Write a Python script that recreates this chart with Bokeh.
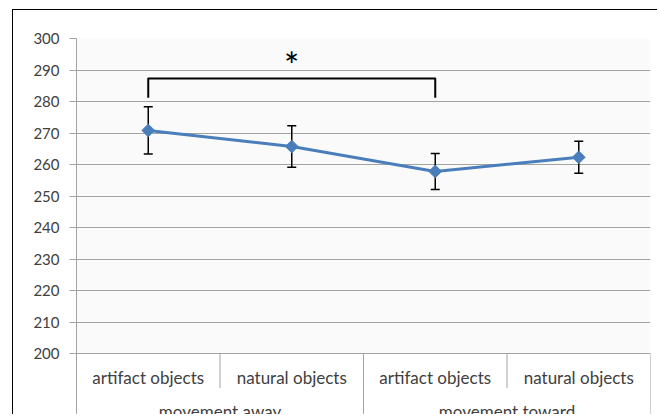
import numpy as np
from bokeh.plotting import figure
from bokeh.models import (ColumnDataSource, FactorRange, Range1d, FixedTicker,
                          Whisker, TeeHead, BoxAnnotation)
from bokeh.core.properties import value
from bokeh.embed import file_html
from bokeh.resources import INLINE

# ---- data ----
groups = ["movement away", "movement toward"]
objects = ["artifact objects", "natural objects"]
means = [270.8, 265.7, 257.8, 262.3]
errors = [7.5, 6.6, 5.7, 5.1]
y_ticks = list(range(200, 301, 10))
bracket_y = [281.2, 287.3]
star_text = "*"
star_y = 291.7

factors = [(g, o) for g in groups for o in objects]

GRID = "#a3a3a3"
TEXT = "#404040"
BLUE = "#4a7ebb"
FONT = "Lato"

PX = 3.15  # pixels per data unit (for label placement below the axis)
y_bottom = 200 - 62 / PX

p = figure(width=645, height=405,
           x_range=FactorRange(*factors, factor_padding=0, group_padding=0,
                               subgroup_padding=0, range_padding=0),
           y_range=Range1d(y_bottom, 300),
           output_backend="svg", toolbar_location=None,
           x_axis_location=None,
           min_border_left=63, min_border_top=28, min_border_right=8,
           min_border_bottom=0,
           styles={"margin-left": "12px", "margin-top": "9px",
                   "border-left": "1px solid #000", "border-top": "1px solid #000"})

p.outline_line_color = None
p.background_fill_color = "white"
p.border_fill_color = "white"

# y axis
p.yaxis.ticker = FixedTicker(ticks=y_ticks)
p.ygrid.ticker = FixedTicker(ticks=y_ticks)
p.yaxis.axis_line_color = GRID
p.yaxis.major_tick_line_color = GRID
p.yaxis.major_tick_out = 7
p.yaxis.major_tick_in = 0
p.yaxis.minor_tick_line_color = None
p.yaxis.major_label_text_font = FONT
p.yaxis.major_label_text_font_size = "15px"
p.yaxis.major_label_text_color = TEXT
p.yaxis.major_label_standoff = 10
p.ygrid.grid_line_color = GRID
p.xgrid.grid_line_color = None

# plot-area background
p.add_layout(BoxAnnotation(bottom=y_ticks[0], top=y_ticks[-1], fill_color="#fafafa",
                           fill_alpha=1, line_color=None, level="image"))

# category axis drawn in data space
sep_x = [(groups[0], objects[1], -0.5), (groups[1], objects[0], -0.5),
         (groups[1], objects[1], -0.5), (groups[1], objects[1], 0.5)]
sep_y1 = [200 - 34.5 / PX, y_bottom, 200 - 34.5 / PX, y_bottom]
p.segment(x0=sep_x, y0=[y_ticks[0]] * 4, x1=sep_x, y1=sep_y1,
          line_color=GRID, line_width=1)

p.text(x=factors, y=[200 - 23.5 / PX] * 4, text=[f[1] for f in factors],
       text_align="center", text_baseline="middle", text_font=value(FONT),
       text_font_size="17px", text_color=TEXT)
p.text(x=groups, y=[200 - 58 / PX] * 2, text=groups,
       text_align="center", text_baseline="middle", text_font=value(FONT),
       text_font_size="17px", text_color=TEXT)

# data
src = ColumnDataSource(dict(x=factors, y=means,
                            upper=[m + e for m, e in zip(means, errors)],
                            lower=[m - e for m, e in zip(means, errors)]))
w = Whisker(base="x", upper="upper", lower="lower", source=src,
            line_color="black", line_width=1.5,
            upper_head=TeeHead(size=9, line_color="black", line_width=1.5),
            lower_head=TeeHead(size=9, line_color="black", line_width=1.5))
p.add_layout(w)

p.line(x="x", y="y", source=src, line_color=BLUE, line_width=3)
p.scatter(x="x", y="y", source=src, marker="square", angle=np.pi / 4, size=9,
          fill_color=BLUE, line_color=BLUE)

# significance bracket
p.line(x=[factors[0], factors[0], factors[2], factors[2]],
       y=[bracket_y[0], bracket_y[1], bracket_y[1], bracket_y[0]],
       line_color="black", line_width=2, line_join="round")
p.text(x=[factors[1]], y=[star_y], text=[star_text], text_align="center",
       text_baseline="middle", text_font=value(FONT), text_font_size="36px",
       text_color="black")

open("out.html", "w").write(file_html(p, INLINE))
